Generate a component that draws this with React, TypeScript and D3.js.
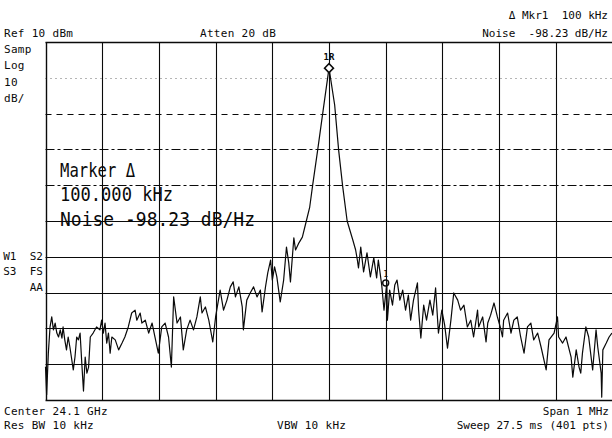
import { useEffect, useRef } from "react";
import * as d3 from "d3";

// trace: offset from center (kHz) and level (dBm)
const offsetKHz = [
  -500, -498, -495, -492, -489, -486, -483, -480, -477, -474, -471, -469, -466, -463, -460, -457,
  -451, -448, -445, -442, -439, -436, -433, -430, -427, -424, -421, -416, -410, -404, -401, -398,
  -395, -392, -389, -386, -383, -377, -371, -365, -360, -354, -348, -342, -339, -333, -330, -324,
  -318, -312, -307, -301, -295, -289, -283, -278, -274, -268, -262, -257, -251, -245, -239, -233,
  -227, -224, -218, -212, -205, -200, -195, -192, -186, -180, -174, -169, -165, -159, -153, -151,
  -145, -139, -133, -127, -121, -118, -112, -108, -103, -100, -96, -92, -86, -80, -75, -71,
  -68, -62, -59, -53, -47, -40, -34, -29, -20, -10, 0, 10, 17, 24, 32, 42,
  47, 50, 52, 56, 61, 67, 73, 79, 84, 87, 93, 97, 102, 103, 107, 112,
  116, 120, 125, 130, 135, 140, 144, 149, 156, 158, 162, 167, 172, 178, 183, 188,
  193, 199, 204, 209, 215, 220, 227, 232, 238, 244, 250, 255, 262, 264, 271, 277,
  280, 285, 291, 297, 302, 306, 308, 315, 321, 326, 332, 338, 344, 350, 356, 361,
  368, 374, 383, 388, 397, 403, 405, 412, 418, 427, 430, 436, 441, 444, 447, 453,
  458, 465, 471, 474, 480, 481, 483, 489, 494, 499,
];
const levelDbm = [
  -80.7, -88.5, -76.9, -69.6, -66.8, -70.4, -68.5, -71.3, -72.4, -70.4, -72.7, -69.6, -73.2, -76.0, -72.4, -75.2,
  -81.6, -78.0, -72.4, -73.2, -71.3, -79.7, -87.5, -78.0, -82.5, -80.8, -72.4, -71.3, -69.6, -70.4, -67.7, -71.3,
  -68.5, -74.1, -71.3, -76.9, -72.4, -73.2, -76.0, -74.1, -72.4, -69.6, -65.7, -64.9, -67.7, -65.7, -68.5, -67.7,
  -71.3, -68.5, -72.4, -76.9, -69.6, -68.5, -72.4, -80.8, -61.2, -68.5, -66.8, -76.0, -70.4, -67.7, -70.4, -66.8,
  -61.2, -65.7, -64.0, -67.7, -73.8, -66.8, -62.1, -59.3, -64.9, -62.1, -58.4, -57.0, -61.2, -58.4, -64.0, -70.4,
  -62.1, -60.1, -58.4, -61.2, -59.3, -65.4, -58.4, -54.5, -50.9, -56.5, -52.8, -55.6, -62.6, -56.5, -47.3, -51.7,
  -57.0, -44.7, -48.1, -46.1, -44.5, -40.0, -36.1, -30.2, -20.2, -8.7, 2.7, -7.6, -20.2, -30.2, -40.0, -45.3,
  -48.1, -50.9, -53.1, -47.3, -54.2, -48.9, -55.6, -50.3, -55.9, -50.9, -57.9, -64.9, -57.3, -67.7, -59.3, -63.5,
  -57.9, -56.5, -62.1, -59.3, -64.9, -60.7, -67.7, -62.1, -57.3, -64.9, -72.7, -63.5, -67.7, -62.1, -66.3, -58.7,
  -71.3, -64.9, -69.1, -75.5, -67.7, -60.1, -62.1, -64.9, -63.5, -69.6, -67.7, -72.4, -64.9, -69.6, -66.8, -73.8,
  -68.5, -66.3, -62.9, -66.8, -69.6, -72.4, -67.7, -65.7, -71.3, -67.7, -66.8, -72.4, -76.9, -69.6, -68.5, -73.2,
  -71.3, -75.2, -81.6, -73.2, -71.3, -66.8, -72.4, -74.1, -72.4, -78.0, -83.6, -76.0, -80.8, -82.5, -76.9, -69.6,
  -72.4, -81.6, -70.4, -75.2, -82.5, -89.2, -76.0, -74.1, -72.4, -71.3,
];

const refLevel = 10;
const dbPerDiv = 10;
const refMarker = { kHz: 0, dbm: 2.7 };
const deltaMarker = { kHz: 100, dbm: -57.3 };

const topLeftLabels = ["Samp", "Log", "10", "dB/"];
const midLeftLabels = ["W1  S2", "S3  FS", "AA"];
const bigLabels = ["Marker \u0394", "100.000 kHz", "Noise -98.23 dB/Hz"];
const bigLabelWidths = [75, 113, 195];

export default function App() {
  const ref = useRef<SVGSVGElement>(null);

  useEffect(() => {
    const svg = d3.select(ref.current);
    svg.selectAll("*").remove();

    const left = 45.5;
    const right = 612.5;
    const top = 42;
    const bottom = 400;
    const ink = "#0a0a0a";
    const mono = "'DejaVu Sans Mono', monospace";

    const x = d3.scaleLinear().domain([-500, 500]).range([left, right]);
    const y = d3
      .scaleLinear()
      .domain([refLevel - 10 * dbPerDiv, refLevel])
      .range([bottom, top]);

    svg.append("rect").attr("width", 612).attr("height", 438).attr("fill", "#fff");

    // graticule
    const g = svg.append("g").attr("stroke", ink).attr("fill", "none");
    const hDash = ["", "1 4", "6 5", "9 3 3 3", "9 3 3 3"];
    for (let i = 0; i <= 10; i++) {
      const yy = Math.round(y(refLevel - i * dbPerDiv)) + 0.5;
      g.append("line")
        .attr("x1", left)
        .attr("x2", right)
        .attr("y1", yy)
        .attr("y2", yy)
        .attr("stroke-width", i === 0 || i === 10 ? 1.4 : 1.1)
        .attr("stroke-dasharray", hDash[i] || null)
        .attr("opacity", i === 1 ? 0.6 : 1);
    }
    for (let i = 0; i <= 10; i++) {
      const xx = Math.round(x(-500 + i * 100)) + 0.5;
      g.append("line")
        .attr("x1", xx)
        .attr("x2", xx)
        .attr("y1", top)
        .attr("y2", bottom)
        .attr("stroke-width", i === 0 ? 1.4 : 1.1);
    }

    // trace
    const pts = offsetKHz.map((k, i) => [k, levelDbm[i]] as [number, number]);
    svg
      .append("path")
      .datum(pts)
      .attr("fill", "none")
      .attr("stroke", ink)
      .attr("stroke-width", 1.2)
      .attr("stroke-linejoin", "round")
      .attr(
        "d",
        d3
          .line<[number, number]>()
          .x((d) => x(d[0]))
          .y((d) => y(d[1]))
      );

    // markers
    const mx = x(refMarker.kHz);
    const my = y(refMarker.dbm);
    svg
      .append("path")
      .attr("d", `M${mx},${my - 4.5}L${mx + 4.5},${my}L${mx},${my + 4.5}L${mx - 4.5},${my}Z`)
      .attr("fill", "#fff")
      .attr("stroke", ink)
      .attr("stroke-width", 1.5);
    svg
      .append("text")
      .attr("x", mx)
      .attr("y", my - 8)
      .attr("text-anchor", "middle")
      .attr("font-family", mono)
      .attr("font-size", 9)
      .attr("font-weight", "bold")
      .attr("fill", ink)
      .text("1R");
    const dx = x(deltaMarker.kHz);
    const dy = y(deltaMarker.dbm);
    svg
      .append("circle")
      .attr("cx", dx)
      .attr("cy", dy)
      .attr("r", 3)
      .attr("fill", "none")
      .attr("stroke", ink)
      .attr("stroke-width", 1.4);
    svg
      .append("text")
      .attr("x", dx)
      .attr("y", dy - 6)
      .attr("text-anchor", "middle")
      .attr("font-family", mono)
      .attr("font-size", 8)
      .attr("fill", ink)
      .text("1");

    // annotation text
    const txt = (s: string, tx: number, ty: number, anchor = "start") =>
      svg
        .append("text")
        .attr("x", tx)
        .attr("y", ty)
        .attr("text-anchor", anchor)
        .attr("font-family", mono)
        .attr("font-size", 11)
        .attr("letter-spacing", anchor === "end" ? 0 : 0.3)
        .attr("fill", ink)
        .style("white-space", "pre")
        .text(s);

    txt("\u0394 Mkr1  100 kHz", 608, 18.5, "end");
    txt("Ref 10 dBm", 4, 36.5);
    txt("Atten 20 dB", 200, 36.5);
    txt("Noise  -98.23 dB/Hz", 608, 36.5, "end");
    topLeftLabels.forEach((s, i) => txt(s, 4, 53 + i * 16.3));
    midLeftLabels.forEach((s, i) => txt(s, 43, 259.5 + i * 15.5, "end"));
    txt("Center 24.1 GHz", 4, 414.5);
    txt("Span 1 MHz", 609, 414.5, "end");
    txt("Res BW 10 kHz", 4, 429);
    txt("VBW 10 kHz", 277, 429);
    txt("Sweep 27.5 ms (401 pts)", 609, 429, "end");

    bigLabels.forEach((s, i) =>
      svg
        .append("text")
        .attr("x", 60)
        .attr("y", 176.5 + i * 24.8)
        .attr("font-family", mono)
        .attr("font-size", 20)
        .attr("textLength", bigLabelWidths[i])
        .attr("lengthAdjust", "spacingAndGlyphs")
        .attr("fill", ink)
        .style("white-space", "pre")
        .text(s)
    );
  });

  return (
    <svg
      ref={ref}
      width={612}
      height={438}
      style={{ position: "absolute", left: 0, top: 0, display: "block" }}
    />
  );
}
